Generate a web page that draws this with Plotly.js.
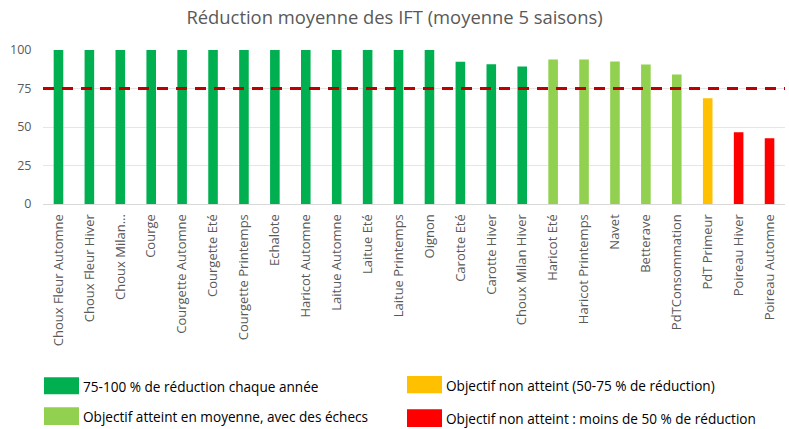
<!DOCTYPE html>
<html>
<head>
<meta charset="utf-8">
<script src="https://cdn.plot.ly/plotly-3.0.1.min.js"></script>
<style>html,body{margin:0;padding:0;background:#fff;}#chart{width:789px;height:429px;}</style>
</head>
<body>
<div id="chart"></div>
<script>
const categories = ["Choux Fleur Automne","Choux Fleur Hiver","Choux Milan…","Courge","Courgette Automne","Courgette Eté","Courgette Printemps","Echalote","Haricot Automne","Laitue Automne","Laitue Eté","Laitue Printemps","Oignon","Carotte Eté","Carotte Hiver","Choux Milan Hiver","Haricot Eté","Haricot Printemps","Navet","Betterave","PdTConsommation","PdT Primeur","Poireau Hiver","Poireau Automne"];
const values = [100,100,100,100,100,100,100,100,100,100,100,100,100,92.4,90.8,89.3,93.8,93.8,92.6,90.6,84.1,68.6,46.6,42.7];
const groups = [0,0,0,0,0,0,0,0,0,0,0,0,0,0,0,0,1,1,1,1,1,2,3,3];
const groupColors = ["#00b050","#92d050","#ffc000","#ff0000"];
const groupLabels = ["75-100 % de réduction chaque année","Objectif atteint en moyenne, avec des échecs","Objectif non atteint (50-75 % de réduction)","Objectif non atteint : moins de 50 % de réduction"];
const objective = 75;
const yTicks = [0,25,50,75,100];

const W = 789, H = 429;
const M = {l:43, r:4, t:49.5, b:224.5};
const pw = W - M.l - M.r, ph = H - M.t - M.b;
const px = x => (x - M.l) / pw;
const py = y => (H - M.b - y) / ph;

const font = "'Open Sans', sans-serif";
const grey = "#595959";

const trace = {
  type: "bar",
  x: categories,
  y: values,
  marker: {color: groups.map(g => groupColors[g])},
  hoverinfo: "x+y"
};

// legend geometry: [x0, y0, x1, y1] in pixels
const legendBoxes = [
  [44, 379, 79, 396],
  [44, 409, 79, 427],
  [407, 377.5, 442, 395],
  [407, 411, 442, 429]
];
const shapes = [{
  type: "line", xref: "paper", yref: "y",
  x0: 0, x1: 1, y0: objective, y1: objective,
  line: {color: "#c00000", width: 3, dash: "11px,8px"}
}];
const annotations = [];
legendBoxes.forEach((b, i) => {
  shapes.push({type: "rect", xref: "paper", yref: "paper",
    x0: px(b[0]), x1: px(b[2]), y0: py(b[3]), y1: py(b[1]),
    fillcolor: groupColors[i], line: {width: 0}});
  annotations.push({xref: "paper", yref: "paper",
    x: px(b[2] + 2), y: py((b[1] + b[3]) / 2 + 0.5),
    xanchor: "left", yanchor: "middle", showarrow: false,
    text: groupLabels[i], font: {family: font, size: 13.6, color: "#000"}});
});

const layout = {
  width: W, height: H,
  margin: M,
  paper_bgcolor: "#fff", plot_bgcolor: "#fff",
  title: {text: "Réduction moyenne des IFT (moyenne 5 saisons)",
    font: {family: font, size: 18.4, color: grey},
    x: 0.5, xanchor: "center", y: 1 - 18/H, yanchor: "middle"},
  bargap: 0.69,
  showlegend: false,
  xaxis: {
    type: "category", tickangle: -90,
    tickfont: {family: font, size: 13, color: grey},
    showline: true, linecolor: "#d9d9d9", linewidth: 1,
    showgrid: false, ticks: "outside", ticklen: 4, tickcolor: "rgba(0,0,0,0)",
    automargin: false
  },
  yaxis: {
    range: [0, 100], tickvals: yTicks,
    tickfont: {family: font, size: 12.5, color: grey},
    showgrid: true, gridcolor: "#e6e6e6", gridwidth: 1,
    zeroline: false, showline: false,
    ticks: "outside", ticklen: 8, tickcolor: "rgba(0,0,0,0)",
    automargin: false
  },
  shapes: shapes,
  annotations: annotations
};

Plotly.newPlot("chart", [trace], layout, {displayModeBar: false, staticPlot: true});
</script>
</body>
</html>
